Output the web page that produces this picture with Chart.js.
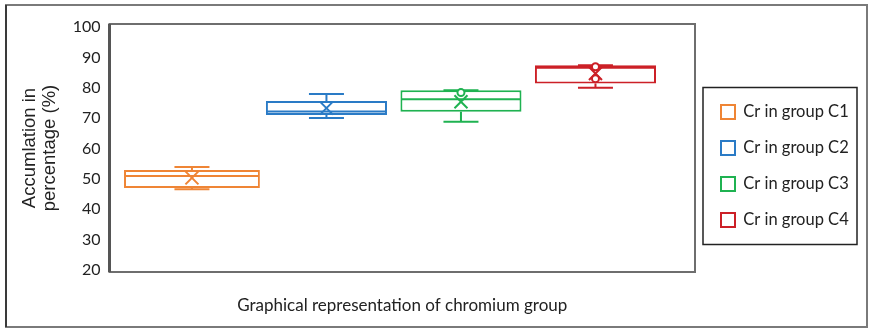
<!DOCTYPE html>
<html><head><meta charset="utf-8">
<script src="https://cdn.jsdelivr.net/npm/chart.js@4.4.1/dist/chart.umd.min.js"></script>
<style>html,body{margin:0;padding:0;background:#fff;}#wrap{width:873px;height:336px;}</style>
</head><body><div id="wrap"><canvas id="c" width="873" height="336"></canvas></div>
<script>
const categories = ['Cr in group C1','Cr in group C2','Cr in group C3','Cr in group C4'];
const whiskerLow  = [46.6, 70.0, 68.8, 80.0];
const q1          = [47.0, 71.0, 72.1, 81.4];
const median      = [50.9, 72.2, 76.2, 86.6];
const q3          = [52.9, 75.6, 79.2, 87.4];
const whiskerHigh = [53.9, 77.9, 79.2, 87.4];
const means       = [50.3, 73.3, 75.4, 84.7];
const innerPoints = [[], [], [78.4], [86.9, 83.0]];
const yTicks = [20, 30, 40, 50, 60, 70, 80, 90, 100];
const colors = ['#EF8535', '#2A7BC6', '#1FB251', '#CC2027'];

const FONT = 'Lato';

const boxPlugin = {
  id: 'boxExtras',
  beforeDraw(chart) {
    const ctx = chart.ctx;
    ctx.save();
    ctx.fillStyle = '#fff';
    ctx.fillRect(0, 0, chart.width, chart.height);
    ctx.strokeStyle = '#7a7a7a';
    ctx.lineWidth = 2;
    ctx.strokeRect(6, 5, 861, 322);
    ctx.strokeStyle = '#3a3a3a';
    ctx.beginPath(); ctx.moveTo(6, 5); ctx.lineTo(6, 327); ctx.stroke();
    ctx.restore();
  },
  afterDatasetsDraw(chart) {
    const ctx = chart.ctx;
    const ys = chart.scales.y;
    ctx.save();
    chart.data.datasets.forEach((ds, i) => {
      const bar = chart.getDatasetMeta(i).data[0];
      if (!bar) return;
      const x = bar.x, w = bar.width;
      const yl = ys.getPixelForValue(whiskerLow[i]);
      const yh = ys.getPixelForValue(whiskerHigh[i]);
      const yq1 = ys.getPixelForValue(q1[i]);
      const yq3 = ys.getPixelForValue(q3[i]);
      const ym = ys.getPixelForValue(median[i]);
      const cap = 17.5;
      ctx.strokeStyle = colors[i];
      ctx.lineWidth = 2;
      ctx.beginPath();
      ctx.moveTo(x - w / 2 + 1, ym); ctx.lineTo(x + w / 2 - 1, ym);
      ctx.moveTo(x, yq3); ctx.lineTo(x, yh);
      ctx.moveTo(x - cap, yh); ctx.lineTo(x + cap, yh);
      ctx.moveTo(x, yq1); ctx.lineTo(x, yl);
      ctx.moveTo(x - cap, yl); ctx.lineTo(x + cap, yl);
      ctx.stroke();
      const ymean = ys.getPixelForValue(means[i]);
      const r = 6.5;
      ctx.beginPath();
      ctx.moveTo(x - r, ymean - r); ctx.lineTo(x + r, ymean + r);
      ctx.moveTo(x + r, ymean - r); ctx.lineTo(x - r, ymean + r);
      ctx.stroke();
      innerPoints[i].forEach(v => {
        const yp = ys.getPixelForValue(v);
        ctx.beginPath();
        ctx.arc(x, yp, 3.5, 0, Math.PI * 2);
        ctx.fillStyle = '#fff';
        ctx.fill();
        ctx.stroke();
      });
    });
    ctx.restore();
  },
  afterDraw(chart) {
    const ctx = chart.ctx;
    const ca = chart.chartArea;
    ctx.save();
    ctx.strokeStyle = '#6e6e6e';
    ctx.lineWidth = 2;
    ctx.strokeRect(ca.left, ca.top, ca.right - ca.left, ca.bottom - ca.top);
    ctx.strokeStyle = '#555';
    ctx.lineWidth = 3;
    ctx.beginPath(); ctx.moveTo(ca.left, ca.top); ctx.lineTo(ca.left, ca.bottom); ctx.stroke();
    const lg = chart.legend;
    if (lg) {
      const cy = (lg.top + lg.bottom) / 2;
      ctx.strokeStyle = '#222';
      ctx.lineWidth = 1.5;
      ctx.strokeRect(lg.left + 1.5, cy - 78.5, 154, 157);
    }
    ctx.restore();
  }
};

new Chart(document.getElementById('c'), {
  type: 'bar',
  data: {
    datasets: categories.map((c, i) => ({
      label: c,
      data: [{ x: i, y: [q1[i], q3[i]] }],
      xAxisID: 'x',
      yAxisID: 'y',
      grouped: false,
      backgroundColor: '#ffffff',
      borderColor: colors[i],
      borderWidth: 2,
      borderSkipped: false,
      barPercentage: i === 0 ? 1.01 : 0.9,
      categoryPercentage: 1
    }))
  },
  options: {
    responsive: false,
    animation: false,
    devicePixelRatio: 1,
    layout: { padding: { left: 0, top: 0, right: 21.5, bottom: 4 } },
    plugins: {
      legend: {
        position: 'right',
        maxWidth: 150,
        labels: {
          boxWidth: 14, boxHeight: 14, padding: 19.5, color: '#222',
          font: { family: FONT, size: 16.5 }
        }
      },
      tooltip: { enabled: false }
    },
    scales: {
      x: {
        type: 'linear',
        position: 'bottom',
        offset: false,
        min: -0.613, max: 3.74,
        afterBuildTicks(s) { s.ticks = categories.map((_, i) => ({ value: i })); },
        grid: { display: false, drawTicks: false },
        border: { display: false },
        ticks: { display: false },
        title: {
          display: true, text: 'Graphical representation of chromium group',
          color: '#222', font: { family: FONT, size: 17 }, padding: { top: 0, bottom: 16 }
        },
        afterFit(s) { s.height = 60; }
      },
      xTop: {
        type: 'linear',
        position: 'top',
        offset: false,
        grid: { display: false, drawTicks: false },
        border: { display: false },
        ticks: { display: false },
        afterFit(s) { s.height = 24; }
      },
      y: {
        position: 'left',
        min: 19.3, max: 101,
        afterBuildTicks(s) { s.ticks = yTicks.map(v => ({ value: v })); },
        grid: { display: false, drawTicks: false },
        border: { display: false },
        ticks: { color: '#222', font: { family: FONT, size: 16 }, padding: 9 },
        title: {
          display: true, text: ['Accumlation in', 'percentage (%)'],
          color: '#222', font: { family: 'Liberation Sans', size: 18.5, lineHeight: 1.1 },
          padding: { top: 19.8, bottom: 0 }
        },
        afterFit(s) { s.width = 109.5; }
      },
      yGap: {
        type: 'linear',
        position: 'right',
        grid: { display: false, drawTicks: false },
        border: { display: false },
        ticks: { display: false },
        afterFit(s) { s.width = 6.5; }
      }
    }
  },
  plugins: [boxPlugin]
});
</script>
</body></html>
